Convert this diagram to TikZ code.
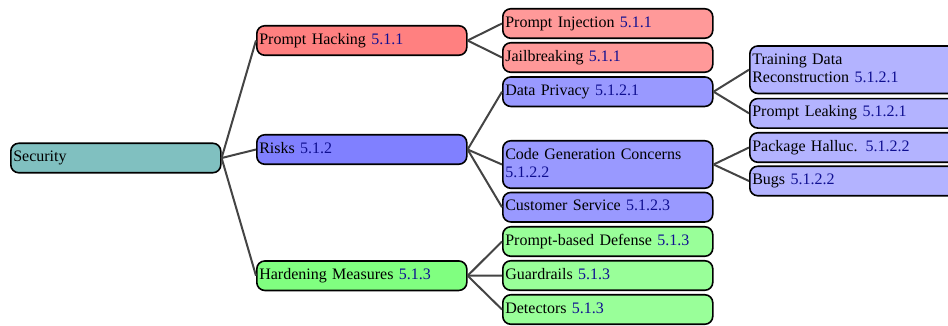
\documentclass[tikz,border=0pt]{standalone}
\usepackage{fontspec}
\setmainfont{Liberation Serif}
\definecolor{numc}{RGB}{15,15,145}
\definecolor{cSec}{RGB}{128,192,192}
\definecolor{cRedA}{RGB}{255,128,128}
\definecolor{cRedB}{RGB}{255,153,153}
\definecolor{cBluA}{RGB}{128,128,255}
\definecolor{cBluB}{RGB}{153,153,255}
\definecolor{cBluC}{RGB}{179,179,255}
\definecolor{cGrnA}{RGB}{128,255,128}
\definecolor{cGrnB}{RGB}{153,255,153}
\definecolor{edgec}{RGB}{68,68,68}
\newcommand{\secnum}[1]{\textcolor{numc}{#1}}
\tikzset{
  treebox/.style={draw=black, line width=1.6pt, rounded corners=8pt,
    inner xsep=2.5pt, inner ysep=5.75pt, text width=205pt, align=left,
    anchor=west, font=\fontsize{16}{18}\selectfont},
  treeedge/.style={draw=edgec, line width=2pt},
}
\begin{document}
\begin{tikzpicture}[x=1pt,y=-1pt]
\useasboundingbox (0,0) rectangle (948,325);
\clip (0,0) rectangle (948,325);
% nodes
\node[treebox, fill=cSec] (sec) at (10,158) {\strut Security};
\node[treebox, fill=cRedA] (ph) at (256,40.5) {\strut Prompt Hacking \secnum{5.1.1}};
\node[treebox, fill=cRedB] (pi) at (502,23.5) {\strut Prompt Injection \secnum{5.1.1}};
\node[treebox, fill=cRedB] (jb) at (502,57.5) {\strut Jailbreaking \secnum{5.1.1}};
\node[treebox, fill=cBluA] (risks) at (256,149.5) {\strut Risks \secnum{5.1.2}};
\node[treebox, fill=cBluB] (dp) at (502,91.7) {\strut Data Privacy \secnum{5.1.2.1}};
\node[treebox, fill=cBluC] (tdr) at (749,69.7) {\strut Training Data\\Reconstruction \secnum{5.1.2.1}\strut};
\node[treebox, fill=cBluC] (pl) at (749,113.3) {\strut Prompt Leaking \secnum{5.1.2.1}};
\node[treebox, fill=cBluB] (cgc) at (502,164.5) {\strut Code Generation Concerns\\\secnum{5.1.2.2}\strut};
\node[treebox, fill=cBluC] (phl) at (749,147.5) {\strut Package Halluc. \secnum{5.1.2.2}};
\node[treebox, fill=cBluC] (bugs) at (749,181) {\strut Bugs \secnum{5.1.2.2}};
\node[treebox, fill=cBluB] (cs) at (502,207.2) {\strut Customer Service \secnum{5.1.2.3}};
\node[treebox, fill=cGrnA] (hm) at (256,275.7) {\strut Hardening Measures \secnum{5.1.3}};
\node[treebox, fill=cGrnB] (pbd) at (502,241.5) {\strut Prompt-based Defense \secnum{5.1.3}};
\node[treebox, fill=cGrnB] (gr) at (502,275.5) {\strut Guardrails \secnum{5.1.3}};
\node[treebox, fill=cGrnB] (det) at (502,309.5) {\strut Detectors \secnum{5.1.3}};
% edges
\foreach \p/\c in {sec/ph, sec/risks, sec/hm, ph/pi, ph/jb, risks/dp, risks/cgc, risks/cs,
  dp/tdr, dp/pl, cgc/phl, cgc/bugs, hm/pbd, hm/gr, hm/det}
  \draw[treeedge] (\p.east) -- (\c.west);
\end{tikzpicture}
\end{document}
